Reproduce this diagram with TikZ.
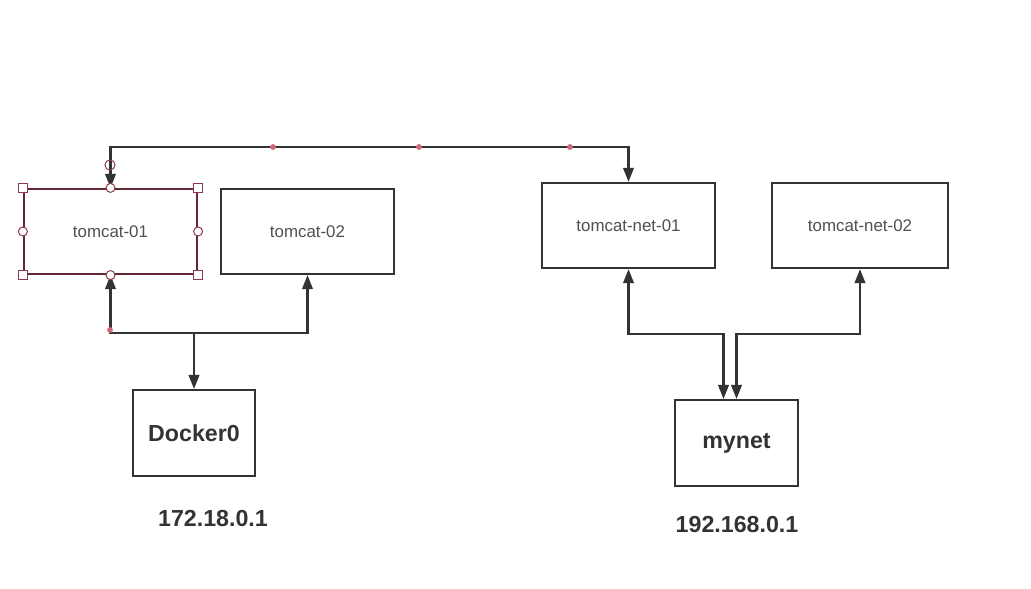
\documentclass[tikz,border=0pt]{standalone}
\usepackage{fontspec}
\setmainfont{Liberation Sans}
\usetikzlibrary{calc, arrows.meta}
\definecolor{linegray}{HTML}{333333}
\definecolor{textgray}{HTML}{505050}
\definecolor{handlered}{HTML}{8A3A4A}
\definecolor{dotred}{HTML}{D0697A}
\tikzset{
    box/.style={draw=linegray, line width=1.4pt, minimum width=4.33cm, minimum height=2.13cm, font=\fontsize{12}{14}\selectfont, text=textgray},
    netbox/.style={box, minimum width=3.06cm, minimum height=2.15cm, font=\fontsize{16.5}{20}\selectfont\bfseries, text=linegray},
    iplabel/.style={font=\fontsize{16.5}{20}\selectfont\bfseries, text=linegray},
    link/.style={draw=linegray, line width=1.6pt, >={Triangle[length=10pt, width=7.5pt]}},
    waypoint/.style={fill=dotred, draw=none, circle, inner sep=0pt, minimum size=4.2pt},
    cornerhandle/.style={draw=handlered, fill=white, line width=0.7pt, inner sep=0pt, minimum size=6.4pt},
    edgehandle/.style={cornerhandle, circle}
}
\begin{document}
\begin{tikzpicture}[x=0.025cm, y=-0.025cm]
\useasboundingbox (0,0) rectangle (1031,589);

% containers
\node[box, draw=handlered!70!black] (t1) at (110.5,231.5) {tomcat-01};
\node[box] (t2) at (307.5,231.5) {tomcat-02};
\node[box] (tn1) at (628.5,225.5) {tomcat-net-01};
\node[box, minimum width=4.4cm] (tn2) at (860,225.5) {tomcat-net-02};

% bridges
\node[netbox] (docker) at (194,433) {Docker0};
\node[netbox] (mynet) at (736.5,443) {mynet};
\node[iplabel] (dockerip) at (213,519) {172.18.0.1};
\node[iplabel] (mynetip) at (737,525) {192.168.0.1};

\coordinate (topbar) at (0,147);
\coordinate (dbar) at (0,333);
\coordinate (mbar) at (0,334);
\coordinate (min1) at ($(mynet.north)+(-13,0)$);
\coordinate (min2) at ($(mynet.north)+(0,0)$);

% links
\draw[link, <->] (t1.north) -- (t1.north |- topbar) -- (tn1.north |- topbar) -- (tn1.north);
\draw[link, <->] (t1.south) -- (t1.south |- dbar) -- (t2.south |- dbar) -- (t2.south);
\draw[link, ->] (docker.north |- dbar) -- (docker.north);
\draw[link, <->] (tn1.south) -- (tn1.south |- mbar) -- (min1 |- mbar) -- (min1);
\draw[link, <->] (tn2.south) -- (tn2.south |- mbar) -- (min2 |- mbar) -- (min2);

% waypoints on the connectors
\foreach \wx in {273, 419, 570}
    \node[waypoint] at (\wx,147) {};
\node[waypoint] at (110,330) {};
\draw[handlered, line width=0.7pt] (110,165) circle (3.6pt);

% selection handles on tomcat-01
\foreach \a in {north west, north east, south west, south east}
    \node[cornerhandle] at (t1.\a) {};
\foreach \a in {north, south, west, east}
    \node[edgehandle] at (t1.\a) {};

\end{tikzpicture}
\end{document}
